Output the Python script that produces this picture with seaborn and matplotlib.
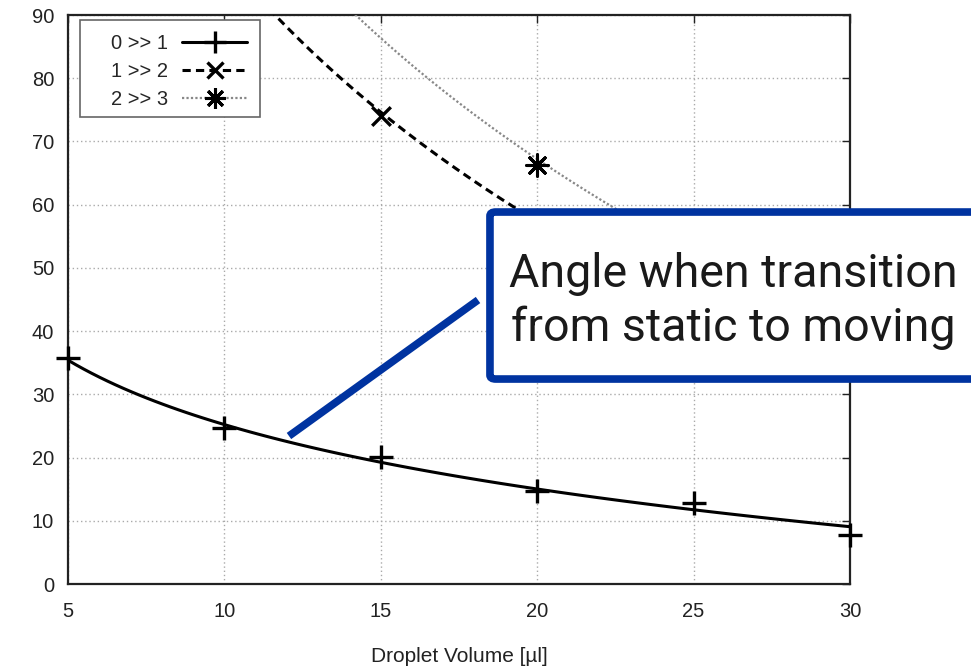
import numpy as np
import pandas as pd
import matplotlib.pyplot as plt
import seaborn as sns
from matplotlib.lines import Line2D
from matplotlib.patches import FancyBboxPatch, Rectangle

# measured points (markers)
x01 = [5, 10, 15, 20, 25, 30]
y01 = [35.8, 24.7, 20.1, 14.7, 12.8, 7.8]
x12 = [15, 20, 25]
y12 = [74, 56, 44]
x23 = [20, 25]
y23 = [66.3, 52]

# fitted curves (parts under the box are estimates)
fit01_x = [5, 6.6, 7.6, 8.7, 10, 11.9, 13.5, 15, 17.4, 20, 22.4, 25, 27.4, 30]
fit01_y = [35.8, 31.8, 28.8, 26.6, 25.0, 22.8, 20.9, 19.4, 17.2, 14.8, 13.3, 11.9, 10.4, 9.2]
fit12_x = [10, 11.7, 15, 19.2, 25]
fit12_y = [99, 90, 74, 60, 44]
fit23_x = [12, 14.3, 16.6, 20, 22.6, 25]
fit23_y = [101, 89.7, 80, 66.3, 60, 52]

labels = ['0 >> 1', '1 >> 2', '2 >> 3']
xticks = [5, 10, 15, 20, 25, 30]
yticks = [0, 10, 20, 30, 40, 50, 60, 70, 80, 90]

sns.set_theme(style='white')
plt.rcParams['font.family'] = ['Liberation Sans', 'DejaVu Sans']

star = (8, 2, 0)
blue = '#0033a0'

fig = plt.figure(figsize=(9.71, 6.68), dpi=100)
ax = fig.add_axes([0.0700, 0.1257, 0.8054, 0.8518])
ax.set_xlim(5, 30)
ax.set_ylim(0, 90)

#fit lines
sns.regplot(x=fit01_x, y=fit01_y, logx=True, scatter=False, ci=None, truncate=True, ax=ax,
            line_kws=dict(color='black', lw=2.2, zorder=3))
sns.regplot(x=fit12_x, y=fit12_y, logx=True, scatter=False, ci=None, truncate=True, ax=ax,
            line_kws=dict(color='black', lw=2.2, linestyle=(0, (2.7, 1.7)), zorder=3))
sns.regplot(x=fit23_x, y=fit23_y, logx=True, scatter=False, ci=None, truncate=True, ax=ax,
            line_kws=dict(color='#888888', lw=1.6, linestyle=(0, (1, 1)), zorder=3))

#markers
sns.scatterplot(x=x01, y=y01, marker='+', s=290, color='black', linewidth=2.4, clip_on=False,
                zorder=5, ax=ax, legend=False)
sns.scatterplot(x=x12, y=y12, marker='x', s=180, color='black', linewidth=2.4, clip_on=False,
                zorder=5, ax=ax, legend=False)
sns.scatterplot(x=x23, y=y23, marker=star, s=240, color='black', linewidth=2.2, clip_on=False,
                zorder=5, ax=ax, legend=False)

ax.set_xticks(xticks)
ax.set_yticks(yticks)
ax.set_xlabel('')
ax.set_ylabel('')
ax.grid(True, color='#aaaaaa', linestyle=(0, (1, 2)), lw=1)
ax.set_axisbelow(True)
for s in ax.spines.values():
    s.set_visible(True)
    s.set_color('#222222')
    s.set_linewidth(1.6)
ax.tick_params(axis='both', direction='in', length=6, width=1, color='#222222',
               top=True, right=True, labelsize=14.5, labelcolor='#222222')
ax.tick_params(axis='x', pad=13)
ax.tick_params(axis='y', pad=10)
ax.set_xlabel('Droplet Volume [µl]', fontsize=15, color='#222222')
ax.xaxis.set_label_coords(0.5, -0.128)
ax.xaxis.label.set_va('center')

# legend frame (gnuplot style, wide left margin)
ax.add_patch(Rectangle((0.0153, 0.8207), 0.2302, 0.1705, transform=ax.transAxes,
                       facecolor='white', edgecolor='#666666', lw=1.2, zorder=4))
handles = [
    Line2D([], [], color='black', lw=2.2, marker='+', ms=16, mew=2.4),
    Line2D([], [], color='black', lw=2.2, linestyle=(0, (2.7, 1.7)), marker='x', ms=12, mew=2.4),
    Line2D([], [], color='#888888', lw=1.6, linestyle=(0, (1, 1)), marker=star, ms=15, mew=2.2,
           markeredgecolor='black'),
]
leg = ax.legend(handles, labels, loc='upper right', bbox_to_anchor=(0.2288, 0.9667), borderaxespad=0,
                markerfirst=False, fontsize=14.5, handlelength=3.2, handletextpad=0.7,
                labelspacing=0.455, frameon=False, borderpad=0)
leg.set_zorder(6)

# annotation box and connector
box = FancyBboxPatch((0.5046, 0.4326), 0.6, 0.25, boxstyle='round,pad=0,rounding_size=0.006',
                     transform=fig.transFigure, facecolor='white', edgecolor=blue, lw=5.5,
                     zorder=10, clip_on=False)
fig.add_artist(box)
fig.add_artist(Line2D([0.2976, 0.4923], [0.3473, 0.5509], transform=fig.transFigure,
                      color=blue, lw=5.5, solid_capstyle='butt', zorder=10))
fig.text(0.7554, 0.549, 'Angle when transition\nfrom static to moving', ha='center', va='center',
         ma='center', fontsize=33.5, family=['Roboto', 'DejaVu Sans'], color='#1a1a1a',
         linespacing=1.27, zorder=11)

fig.savefig('out.png', dpi=100)
